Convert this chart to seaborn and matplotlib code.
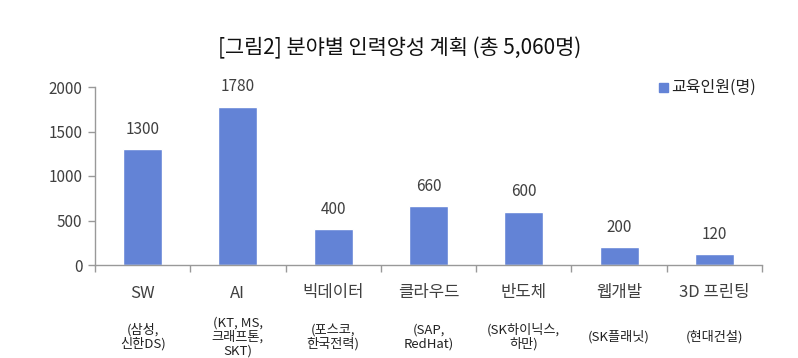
import matplotlib
matplotlib.use("Agg")
import matplotlib.pyplot as plt
import matplotlib.transforms as mtransforms
import seaborn as sns
import pandas as pd

categories = ["SW", "AI", "빅데이터", "클라우드", "반도체", "웹개발", "3D 프린팅"]
sublabels = ["(삼성,\n신한DS)", "(KT, MS,\n크래프톤,\nSKT)", "(포스코,\n한국전력)",
             "(SAP,\nRedHat)", "(SK하이닉스,\n하만)", "(SK플래닛)", "(현대건설)"]
values = [1300, 1780, 400, 660, 600, 200, 120]
yticks = [0, 500, 1000, 1500, 2000]
title = "[그림2] 분야별 인력양성 계획 (총 5,060명)"
legend_label = "교육인원(명)"

sns.set_theme(style="white")
plt.rcParams['font.family'] = ['Noto Sans CJK KR', 'DejaVu Sans']

bar_color = "#6383D6"
text_color = "#404040"
axis_color = "#999999"

df = pd.DataFrame({"cat": categories, "val": values})

fig = plt.figure(figsize=(7.98, 3.58), dpi=100)
ax = fig.add_axes([95/798, 1-265/358, (762-95)/798, (265-87)/358])

sns.barplot(data=df, x="cat", y="val", color=bar_color, width=0.41,
            saturation=1, ax=ax, zorder=2)

ax.set_ylim(0, 2000)
ax.set_xlim(-0.5, len(categories)-0.5)
ax.set_yticks(yticks)
ax.set_yticklabels([str(v) for v in yticks], fontsize=11, color=text_color)
ax.set_xticks([i-0.5 for i in range(len(categories)+1)])
ax.set_xticklabels([])
ax.set_xlabel("")
ax.set_ylabel("")
for s in ["top", "right"]:
    ax.spines[s].set_visible(False)
for s in ["left", "bottom"]:
    ax.spines[s].set_color(axis_color)
    ax.spines[s].set_linewidth(1)
ax.tick_params(axis="both", which="major", length=5, width=1, color=axis_color,
               left=True, bottom=True, direction="out", pad=4)

for c in ax.containers:
    ax.bar_label(c, labels=[str(v) for v in values], padding=8,
                 fontsize=11, color=text_color)

trans = mtransforms.blended_transform_factory(ax.transData, fig.transFigure)
for i, (cat, sub) in enumerate(zip(categories, sublabels)):
    ax.text(i, 1-293/358, cat, transform=trans, ha="center", va="center",
            fontsize=12, color=text_color)
    ax.text(i, 1-337/358, sub, transform=trans, ha="center", va="center",
            fontsize=9.5, color="#222222", linespacing=1.1)

fig.text(400/798, 1-48/358, title, ha="center", va="center",
         fontsize=15, color="#111111")

# legend
fig.patches.append(plt.Rectangle((659/798, 1-92/358), 9/798, 9/358,
                                 transform=fig.transFigure, color=bar_color,
                                 figure=fig))
fig.text(671/798, 1-87/358, legend_label, ha="left", va="center",
         fontsize=11.5, color="#222222")

fig.savefig("out.png", dpi=100)
